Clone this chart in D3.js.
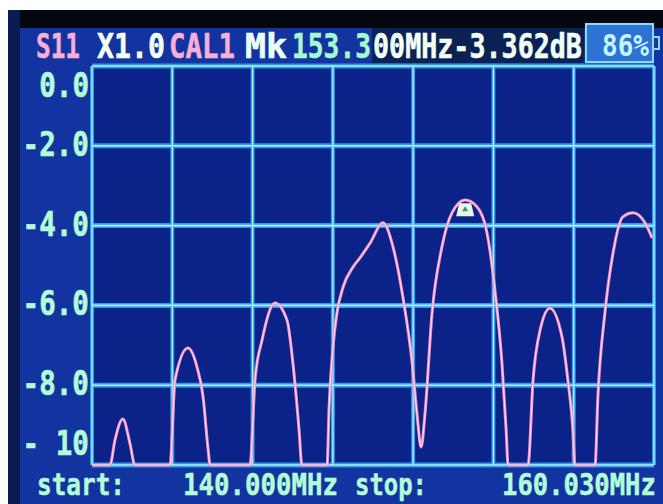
<!DOCTYPE html>
<meta charset="utf-8">
<style>
body { margin: 0; background: #fff; }
svg text { font-family: "DejaVu Sans Mono", "Liberation Mono", monospace; font-weight: bold; }
</style>
<svg width="663" height="504"></svg>
<script src="https://d3js.org/d3.v7.min.js"></script>
<script>
// S11 sweep, 140.000 - 160.030 MHz
var freqs = [140.00, 140.64, 140.82, 141.10, 141.35, 141.53,
             142.78, 142.96, 143.42, 143.74, 143.96, 144.13, 144.21,
             145.63, 145.81, 146.06, 146.52, 146.95, 147.16, 147.38, 147.48,
             148.38, 148.45, 148.59, 148.73, 148.95, 149.30, 149.55, 149.91, 150.37,
             150.73, 151.08, 151.41, 151.58, 151.73, 151.87, 152.12, 152.47, 152.83,
             153.30, 153.72, 154.08, 154.36, 154.61, 154.76, 154.83,
             155.54, 155.72, 155.97, 156.32, 156.75, 156.96, 157.14, 157.21,
             157.93, 158.03, 158.28, 158.57, 158.92, 159.28, 159.71, 159.96];
var s11 = [-10.5, -10.5, -9.37, -8.85, -9.45, -10.5,
           -10.5, -7.87, -7.07, -7.54, -8.30, -9.55, -10.5,
           -10.5, -7.87, -6.87, -5.94, -6.37, -7.44, -9.12, -10.5,
           -10.5, -8.55, -7.04, -6.19, -5.54, -5.04, -4.81, -4.44, -3.93,
           -4.54, -5.79, -7.44, -8.70, -9.55, -8.70, -6.19, -4.54, -3.68,
           -3.36, -3.53, -4.19, -5.61, -7.44, -9.12, -10.5,
           -10.5, -7.87, -6.62, -6.07, -6.79, -7.87, -9.12, -10.5,
           -10.5, -8.30, -6.19, -4.69, -3.78, -3.68, -3.93, -4.31];

var yTickValues = [0, -2, -4, -6, -8, -10];
var yTickLabels = ["0.0", "-2.0", "-4.0", "-6.0", "-8.0", "- 10"];
var startFreq = 140.000, stopFreq = 160.030, xDivisions = 7;
var markerFreq = 153.300, markerDb = -3.362;

var headerParts = [
  {t: "S11",   x: 36,  w: 44,  c: "#f6b0d8"},
  {t: "X1.0",  x: 97,  w: 68,  c: "#f4fff6"},
  {t: "CAL1",  x: 169, w: 66,  c: "#f6b0d8"},
  {t: "Mk",    x: 245, w: 42,  c: "#eafff2"},
  {t: "153.3", x: 292, w: 79,  c: "#a6f8d0"},
  {t: "00MHz-3.362dB", x: 373, w: 209, c: "#f2fff8"}
];
var battery = "86%";
var footerParts = [
  {t: "start:",     x: 37,  w: 88},
  {t: "140.000MHz", x: 183, w: 155},
  {t: "stop:",      x: 355, w: 72},
  {t: "160.030MHz", x: 502, w: 154}
];
</script>
<script>
var svg = d3.select("svg");

var plot = {left: 92, right: 654, top: 66, bottom: 465};

var x = d3.scaleLinear().domain([startFreq, stopFreq]).range([plot.left, plot.right]);
var y = d3.scaleLinear().domain([0, -10]).range([plot.top, plot.bottom]).clamp(true);

// squeeze a text horizontally so it fills exactly w pixels
function fit(sel, x0, y0, w) {
  sel.each(function(d) {
    var n = this.getComputedTextLength();
    var sx = w(d) / n;
    d3.select(this).attr("transform", "translate(" + x0(d) + "," + y0(d) + ") scale(" + sx + ",1)");
  });
}

// photo frame + screen
svg.append("rect").attr("width", 663).attr("height", 504).attr("fill", "#fff");
svg.append("rect").attr("x", 8).attr("y", 10).attr("width", 655).attr("height", 494).attr("fill", "#1334a0");
svg.append("rect").attr("x", 8).attr("y", 10).attr("width", 655).attr("height", 18).attr("fill", "#04070f");
svg.append("rect").attr("x", 8).attr("y", 10).attr("width", 12).attr("height", 494).attr("fill", "#0a1a52");

// header
svg.append("rect").attr("x", 372).attr("y", 28).attr("width", 212).attr("height", 35).attr("fill", "#0b2152");
svg.append("rect").attr("x", 586).attr("y", 24).attr("width", 67).attr("height", 38)
    .attr("fill", "#2e72d6").attr("stroke", "#8fd8ff").attr("stroke-width", 2);
svg.append("rect").attr("x", 653).attr("y", 37).attr("width", 6).attr("height", 12)
    .attr("fill", "#1a3a90").attr("stroke", "#8fd8ff").attr("stroke-width", 2);

svg.append("g").selectAll("text")
  .data(headerParts)
  .enter().append("text")
    .attr("font-size", 34)
    .attr("fill", function(d) { return d.c; })
    .attr("stroke", function(d) { return d.c; })
    .attr("stroke-width", 0.6)
    .text(function(d) { return d.t; })
    .call(fit, function(d) { return d.x; }, function() { return 58; }, function(d) { return d.w; });

svg.append("g").selectAll("text")
  .data([battery])
  .enter().append("text")
    .attr("font-size", 30)
    .attr("fill", "#c4f6ff")
    .text(function(d) { return d; })
    .call(fit, function() { return 602; }, function() { return 56; }, function() { return 47; });

// plot area
svg.append("rect")
    .attr("x", plot.left).attr("y", plot.top)
    .attr("width", plot.right - plot.left).attr("height", plot.bottom - plot.top)
    .attr("fill", "#0b2388");

var xGrid = d3.range(xDivisions + 1).map(function(i) {
  return startFreq + i * (stopFreq - startFreq) / xDivisions;
});

var grid = svg.append("g");
[["#2a9ce8", 5], ["#b8eeff", 1.6]].forEach(function(s) {
  grid.append("g").selectAll("line")
    .data(yTickValues)
    .enter().append("line")
      .attr("x1", plot.left).attr("x2", plot.right)
      .attr("y1", function(d) { return y(d); })
      .attr("y2", function(d) { return y(d); })
      .attr("stroke", s[0]).attr("stroke-width", s[1]);
  grid.append("g").selectAll("line")
    .data(xGrid)
    .enter().append("line")
      .attr("x1", function(d) { return x(d); })
      .attr("x2", function(d) { return x(d); })
      .attr("y1", plot.top).attr("y2", plot.bottom)
      .attr("stroke", s[0]).attr("stroke-width", s[1] * 0.8);
});

// trace
var line = d3.line()
    .x(function(d, i) { return x(freqs[i]); })
    .y(function(d) { return y(d); })
    .curve(d3.curveMonotoneX);

svg.append("path")
    .datum(s11)
    .attr("fill", "none")
    .attr("stroke", "#f08cc4")
    .attr("stroke-width", 3)
    .attr("d", line);
svg.append("path")
    .datum(s11)
    .attr("fill", "none")
    .attr("stroke", "#ffe6f2")
    .attr("stroke-width", 1)
    .attr("d", line);

// marker
var mx = x(markerFreq), my = y(markerDb);
svg.append("path")
    .attr("d", "M" + (mx - 6) + "," + (my + 3) + "L" + (mx + 6) + "," + (my + 3) +
               "L" + (mx + 9) + "," + (my + 16) + "L" + (mx - 9) + "," + (my + 16) + "Z")
    .attr("fill", "#e8f6ea");
svg.append("path")
    .attr("d", "M" + mx + "," + (my + 6) + "L" + (mx + 3) + "," + (my + 11) + "L" + (mx - 3) + "," + (my + 11) + "Z")
    .attr("fill", "#2f9a5a");

// y labels
var labelY = function(v) { return Math.min(Math.max(y(v) + 10, 97), 455); };
svg.append("g").selectAll("text")
  .data(yTickValues)
  .enter().append("text")
    .attr("font-size", 33)
    .attr("fill", "#b4fcd8")
    .attr("stroke", "#b4fcd8")
    .attr("stroke-width", 0.6)
    .text(function(d, i) { return yTickLabels[i]; })
    .call(fit,
      function(d) { return 89 - yTickLabels[yTickValues.indexOf(d)].length * 16.6; },
      labelY,
      function(d) { return yTickLabels[yTickValues.indexOf(d)].length * 16.6; });

// footer
svg.append("g").selectAll("text")
  .data(footerParts)
  .enter().append("text")
    .attr("font-size", 30)
    .attr("fill", "#b4fcd8")
    .attr("stroke", "#b4fcd8")
    .attr("stroke-width", 0.5)
    .text(function(d) { return d.t; })
    .call(fit, function(d) { return d.x; }, function() { return 495; }, function(d) { return d.w; });
</script>
